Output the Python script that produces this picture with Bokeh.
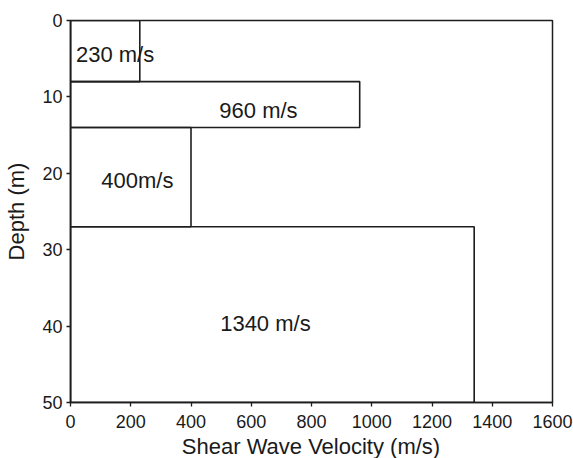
from bokeh.plotting import figure
from bokeh.models import Range1d, FixedTicker, ColumnDataSource, Div
from bokeh.layouts import column
from bokeh.core.properties import value
from bokeh.embed import file_html
from bokeh.resources import INLINE

# Layered shear-wave velocity profile
layer_top = [0, 8, 14, 27]          # m
layer_bottom = [8, 14, 27, 50]      # m
velocity = [230, 960, 400, 1340]    # m/s
layer_label = ["230 m/s", "960 m/s", "400m/s", "1340 m/s"]

# Where each layer's label sits (velocity, depth)
label_x = [148, 624, 222, 647]
label_y = [4.4, 11.8, 20.9, 39.7]

x_ticks = [0, 200, 400, 600, 800, 1000, 1200, 1400, 1600]
y_ticks = [0, 10, 20, 30, 40, 50]

FONT = "Liberation Sans"
INK = "#1a1a1a"
LINE = "#1e1e1e"
W = 573
LEFT, RIGHT = 70, 21
TITLE_H = 22

p = figure(
    width=W, height=458 - TITLE_H,
    x_range=Range1d(0, 1600), y_range=Range1d(50, 0),
    output_backend="svg", toolbar_location=None,
    min_border_left=LEFT, min_border_right=RIGHT,
    min_border_top=20, min_border_bottom=34,
)
p.grid.visible = False
p.outline_line_color = LINE
p.outline_line_width = 1.5
p.background_fill_color = "white"
p.border_fill_color = "white"

layers = ColumnDataSource(dict(
    left=[0] * len(velocity), right=velocity,
    top=layer_top, bottom=layer_bottom,
))
p.quad(left="left", right="right", top="top", bottom="bottom", source=layers,
       fill_color=None, line_color=LINE, line_width=1.6)

labels = ColumnDataSource(dict(x=label_x, y=label_y, text=layer_label))
p.text(x="x", y="y", text="text", source=labels,
       text_align="center", text_baseline="middle",
       text_font=value(FONT), text_font_size="22px", text_color=INK)

for ax in (p.xaxis[0], p.yaxis[0]):
    ax.axis_line_color = LINE
    ax.axis_line_width = 1.5
    ax.major_tick_line_color = LINE
    ax.major_tick_line_width = 1.3
    ax.major_tick_in = 0
    ax.major_tick_out = 4
    ax.minor_tick_line_color = None
    ax.major_label_text_font = FONT
    ax.major_label_text_font_size = "18px"
    ax.major_label_text_color = INK
    ax.axis_label_text_font = FONT
    ax.axis_label_text_font_size = "22px"
    ax.axis_label_text_font_style = "normal"
    ax.axis_label_text_color = INK

p.xaxis.ticker = FixedTicker(ticks=x_ticks)
p.yaxis.ticker = FixedTicker(ticks=y_ticks)
p.yaxis.axis_label = "Depth (m)"
p.xaxis.major_label_standoff = 8
p.yaxis.major_label_standoff = 4
p.yaxis.axis_label_standoff = 10

# x-axis title set in its own strip under the plot, centred on the frame
x_title = Div(
    text="Shear Wave Velocity (m/s)",
    width=W - LEFT - RIGHT, height=TITLE_H, margin=(0, RIGHT, 0, LEFT),
    styles={"font-family": FONT, "font-size": "22px", "color": INK,
            "text-align": "center", "line-height": f"{TITLE_H}px",
            "white-space": "nowrap"},
)

layout = column(p, x_title, spacing=0)
open("out.html", "w").write(file_html(layout, INLINE))
